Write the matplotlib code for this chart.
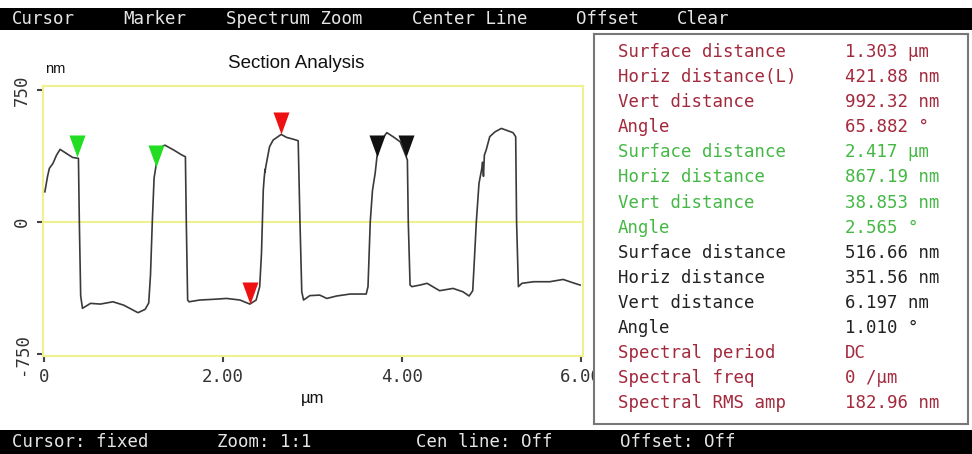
import matplotlib
matplotlib.use("Agg")
import matplotlib.pyplot as plt

W, H = 972, 454

# section profile (µm, nm)
x_um = [0.01, 0.04, 0.06, 0.10, 0.14, 0.18, 0.25, 0.32, 0.385, 0.395, 0.41, 0.43,
        0.52, 0.63, 0.77, 0.89, 0.98, 1.05, 1.13, 1.17, 1.19, 1.21, 1.23, 1.25,
        1.28, 1.35, 1.45, 1.54, 1.58, 1.59, 1.605, 1.62, 1.74, 1.89, 2.04, 2.19,
        2.30, 2.37, 2.41, 2.43, 2.44, 2.45, 2.46, 2.47, 2.47, 2.48, 2.52, 2.56,
        2.60, 2.65, 2.71, 2.79, 2.84, 2.86, 2.88, 2.90, 2.97, 3.08, 3.16, 3.27,
        3.42, 3.60, 3.62, 3.645, 3.67, 3.70, 3.72, 3.77, 3.83, 3.90, 3.98, 4.04,
        4.06, 4.07, 4.09, 4.11, 4.20, 4.28, 4.42, 4.57, 4.68, 4.75, 4.79, 4.81,
        4.83, 4.86, 4.89, 4.90, 4.91, 4.92, 4.94, 4.98, 5.04, 5.11, 5.18, 5.24,
        5.27, 5.28, 5.30, 5.34, 5.47, 5.65, 5.80, 5.91, 5.99]
z_nm = [172, 260, 305, 333, 380, 413, 390, 367, 362, 0, -420, -490,
        -462, -466, -453, -472, -496, -515, -496, -460, -300, 0, 250, 314,
        419, 437, 409, 381, 371, 0, -443, -453, -443, -439, -434, -443,
        -466, -443, -367, -177, 0, 182, 250, 300, 285, 320, 428, 466,
        480, 498, 481, 470, 462, 0, -396, -443, -418, -415, -434, -420,
        -409, -409, -367, 0, 180, 277, 371, 466, 508, 485, 456, 381,
        352, 0, -358, -367, -358, -348, -390, -377, -396, -420, -390, -200,
        0, 220, 300, 340, 260, 380, 409, 485, 513, 532, 519, 508,
        485, 0, -367, -348, -339, -339, -326, -345, -358]

marker_x = [0.37, 1.25, 2.30, 2.65, 3.72, 4.05]
marker_z = [371, 314, -466, 498, 371, 367]
marker_colors = ["#22dd22", "#22dd22", "#ee1111", "#ee1111", "#111111", "#111111"]

menu_items = ["Cursor", "Marker", "Spectrum Zoom", "Center Line", "Offset", "Clear"]
menu_x = [12, 123, 226, 412, 576, 677]
status_items = ["Cursor: fixed", "Zoom: 1:1", "Cen line: Off", "Offset: Off"]
status_x = [12, 217, 416, 620]

panel_labels = ["Surface distance", "Horiz distance(L)", "Vert distance", "Angle",
                "Surface distance", "Horiz distance", "Vert distance", "Angle",
                "Surface distance", "Horiz distance", "Vert distance", "Angle",
                "Spectral period", "Spectral freq", "Spectral RMS amp"]
panel_values = ["1.303 µm", "421.88 nm", "992.32 nm", "65.882 °",
                "2.417 µm", "867.19 nm", "38.853 nm", "2.565 °",
                "516.66 nm", "351.56 nm", "6.197 nm", "1.010 °",
                "DC", "0 /µm", "182.96 nm"]
RED, GRN, BLK = "#a3293d", "#44b844", "#222222"
panel_colors = [RED] * 4 + [GRN] * 4 + [BLK] * 4 + [RED] * 3

MONO = "DejaVu Sans Mono"
YEL = "#f0f08c"


def fx(px):
    return px / W


def fy(py):
    return 1 - py / H


fig = plt.figure(figsize=(W / 100, H / 100), dpi=100)
fig.patch.set_facecolor("white")

# top menu bar
top = fig.add_axes([0, fy(30), 1, (30 - 8) / H])
top.set_facecolor("black")
top.set_xticks([]); top.set_yticks([])
for s in top.spines.values():
    s.set_visible(False)
for t, x in zip(menu_items, menu_x):
    fig.text(fx(x), fy(19), t, color="#e6e6e6", family=MONO, fontsize=12.5, va="center")

# bottom status bar
bot = fig.add_axes([0, 0, 1, (454 - 430) / H])
bot.set_facecolor("black")
bot.set_xticks([]); bot.set_yticks([])
for s in bot.spines.values():
    s.set_visible(False)
for t, x in zip(status_items, status_x):
    fig.text(fx(x), fy(442), t, color="#e6e6e6", family=MONO, fontsize=12.5, va="center")

# section plot
ax = fig.add_axes([fx(43), fy(356), (583 - 43) / W, (356 - 86) / H])
ax.plot(x_um, z_nm, color="#3a3a3a", lw=1.2, zorder=3)
ax.axhline(0, color=YEL, lw=1.5, zorder=1)
tri = [(0, 0), (-8, 22), (8, 22)]
for mx, mz, c in zip(marker_x, marker_z, marker_colors):
    ax.plot(mx, mz, marker=tri, markersize=31.7, color=c, markeredgewidth=0, zorder=4)
ax.set_xlim(-0.011, 6.022)
ax.set_ylim(-761, 773)
for s in ax.spines.values():
    s.set_color(YEL)
    s.set_linewidth(1.5)
ax.set_xticks([0, 2, 4, 6])
ax.set_xticklabels(["0", "2.00", "4.00", "6.00"], family=MONO, fontsize=12.5, color="#333333")
ax.set_yticks([-750, 0, 750])
ax.set_yticklabels(["-750", "0", "750"], family=MONO, fontsize=12.5, color="#333333",
                   rotation=90, va="center")
ax.tick_params(direction="out", length=4, width=1.5, color="#444444", pad=5)
fig.text(fx(296), fy(64), "Section Analysis", family="Liberation Sans", fontsize=13.5,
         ha="center", va="center", color="#111111")
fig.text(fx(45), fy(69), "nm", family="Liberation Sans", fontsize=10.5, va="center",
         color="#111111")
fig.text(fx(313), fy(398), "µm", family="Liberation Sans", fontsize=12, ha="center",
         va="center", color="#111111")

# measurement panel
pn = fig.add_axes([fx(594), fy(424), (968 - 594) / W, (424 - 34) / H])
pn.set_facecolor("white")
pn.set_xticks([]); pn.set_yticks([])
for s in pn.spines.values():
    s.set_color("#777777")
    s.set_linewidth(1.5)
for i, (lab, val, c) in enumerate(zip(panel_labels, panel_values, panel_colors)):
    y = 52 + 25.1 * i
    fig.text(fx(618), fy(y), lab, family=MONO, fontsize=12.5, color=c, va="center")
    fig.text(fx(845), fy(y), val, family=MONO, fontsize=12.5, color=c, va="center")

fig.savefig("out.png", dpi=100)
